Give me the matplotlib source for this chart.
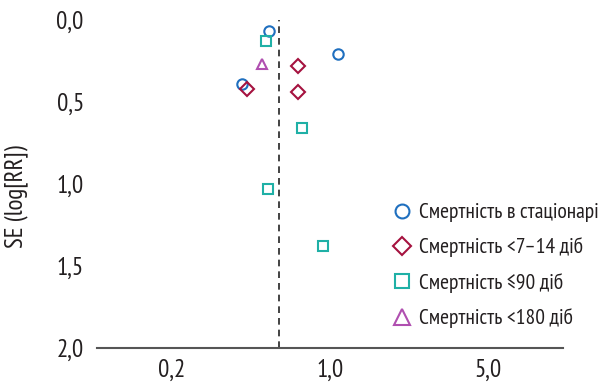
import matplotlib
matplotlib.use("Agg")
import matplotlib.pyplot as plt
from matplotlib.lines import Line2D
from matplotlib import font_manager

names = {f.name for f in font_manager.fontManager.ttflist}
fam = 'PT Sans Narrow' if 'PT Sans Narrow' in names else 'DejaVu Sans'
plt.rcParams['font.family'] = [fam, 'DejaVu Sans']

# Data (RR, SE(log RR))
hosp_rr = [0.54, 1.09, 0.41]
hosp_se = [0.07, 0.21, 0.39]
d14_rr = [0.72, 0.43, 0.72]
d14_se = [0.28, 0.42, 0.44]
d90_rr = [0.52, 0.75, 0.53, 0.93]
d90_se = [0.13, 0.66, 1.03, 1.38]
d180_rr = [0.50]
d180_se = [0.27]
pooled_rr = 0.595

labels = ['Смертність в стаціонарі', 'Смертність <7–14 діб',
          'Смертність ≤90 діб', 'Смертність <180 діб']
xticks = [0.2, 1.0, 5.0]
xticklabels = ['0,2', '1,0', '5,0']
yticks = [0.0, 0.5, 1.0, 1.5, 2.0]
yticklabels = ['0,0', '0,5', '1,0', '1,5', '2,0']

c_blue = '#1f6fbf'
c_red = '#a5123f'
c_teal = '#1fb0a6'
c_purp = '#b04fb0'
c_text = '#231f20'

fig = plt.figure(figsize=(6.02, 3.84), dpi=100)
ax = fig.add_axes([97/602, 1-348/384, (563-97)/602, (348-20)/384])
ax.set_xscale('log')
ax.set_xlim(0.0935, 10.7)
ax.set_ylim(2.0, 0.0)

ms = 7.5
ax.axvline(pooled_rr, color='#222222', lw=1.2, ls=(0, (4, 3)), zorder=1)
ax.plot(hosp_rr, hosp_se, 'o', mfc='none', mec=c_blue, mew=1.5, ms=ms, ls='none')
ax.plot(d14_rr, d14_se, 'D', mfc='none', mec=c_red, mew=1.5, ms=ms*0.95, ls='none')
ax.plot(d90_rr, d90_se, 's', mfc='none', mec=c_teal, mew=1.5, ms=ms*0.95, ls='none')
ax.plot(d180_rr, d180_se, '^', mfc='none', mec=c_purp, mew=1.5, ms=ms*1.05, ls='none')

for s in ['top', 'right', 'left']:
    ax.spines[s].set_visible(False)
ax.spines['bottom'].set_color('#555555')
ax.spines['bottom'].set_linewidth(1.5)

ax.set_xticks(xticks)
ax.set_xticklabels(xticklabels)
ax.xaxis.set_minor_locator(matplotlib.ticker.NullLocator())
ax.set_yticks(yticks)
ax.set_yticklabels(yticklabels)
ax.tick_params(axis='both', length=0, labelsize=18, colors=c_text)
ax.tick_params(axis='y', pad=9.5)
ax.tick_params(axis='x', pad=8)
ax.set_ylabel('SE (log[RR])', fontsize=18, color=c_text)
ax.yaxis.set_label_coords(-0.148, 0.463)

handles = [
    Line2D([], [], marker='o', mfc='none', mec=c_blue, mew=1.5, ms=10, ls='none'),
    Line2D([], [], marker='D', mfc='none', mec=c_red, mew=1.5, ms=9, ls='none'),
    Line2D([], [], marker='s', mfc='none', mec=c_teal, mew=1.5, ms=10, ls='none'),
    Line2D([], [], marker='^', mfc='none', mec=c_purp, mew=1.5, ms=11, ls='none'),
]
leg = fig.legend(handles, labels, loc='upper left', bbox_to_anchor=(393/602, 1-203/384),
                 frameon=False, fontsize=15.5, handlelength=0.8, handletextpad=0.4,
                 labelspacing=0.72, borderaxespad=0, borderpad=0)
for t in leg.get_texts():
    t.set_color(c_text)

fig.savefig('out.png', dpi=100)
